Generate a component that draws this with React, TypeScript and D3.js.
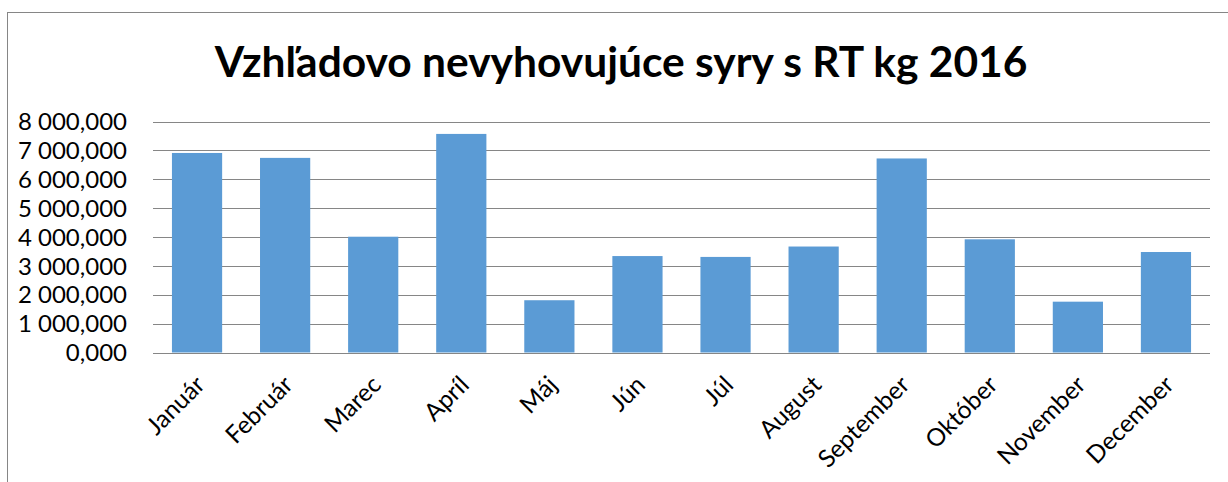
import React from "react";
import * as d3 from "d3";

const months = ["Január", "Február", "Marec", "Apríl", "Máj", "Jún", "Júl", "August", "September", "Október", "November", "December"];
const values = [6910, 6740, 4010, 7570, 1810, 3340, 3310, 3670, 6720, 3920, 1760, 3480];
const yTicks = [0, 1000, 2000, 3000, 4000, 5000, 6000, 7000, 8000];
const title = "Vzhľadovo nevyhovujúce syry s RT kg 2016";

const W = 1228;
const H = 482;
const plotLeft = 153;
const plotRight = 1210;
const plotTop = 121.5;
const plotBottom = 352.5;

const locale = d3.formatLocale({ decimal: ",", thousands: "\u00a0", grouping: [3], currency: ["", "€"] });
const fmt = locale.format(",.3f");

export default function App() {
  const x = d3.scaleBand<string>().domain(months).range([plotLeft, plotRight]).paddingInner(0.43).paddingOuter(0.215);
  const y = d3.scaleLinear().domain([0, 8000]).range([plotBottom, plotTop]);
  const font = "Lato, 'Open Sans', sans-serif";
  return (
    <svg width={W} height={H} style={{ position: "absolute", left: 0, top: 0, background: "#fff" }}>
      <rect x={7.5} y={12.5} width={W + 20} height={H + 20} fill="#fff" stroke="#868686" strokeWidth={1} />
      <text x={621} y={77} textAnchor="middle" fontFamily={font} fontWeight={700} fontSize={42.5} fill="#000">{title}</text>
      {yTicks.map((t) => (
        <g key={t}>
          <line x1={plotLeft} x2={plotRight} y1={Math.round(y(t)) + 0.5} y2={Math.round(y(t)) + 0.5} stroke="#868686" strokeWidth={1} />
          <text x={127} y={y(t)} dy="0.36em" textAnchor="end" fontFamily={font} fontSize={24} fill="#000">{fmt(t)}</text>
        </g>
      ))}
      {months.map((m, i) => (
        <rect key={m} x={x(m)} y={y(values[i])} width={x.bandwidth()} height={plotBottom - y(values[i])} fill="#5B9BD5" />
      ))}
      {months.map((m) => {
        const cx = (x(m) as number) + x.bandwidth() / 2 - 3;
        const cy = 374;
        return (
          <text key={m} x={cx} y={cy} dy="0.71em" textAnchor="end" fontFamily={font} fontSize={24.5} fill="#000" transform={`rotate(-45 ${cx} ${cy})`}>{m}</text>
        );
      })}
    </svg>
  );
}
